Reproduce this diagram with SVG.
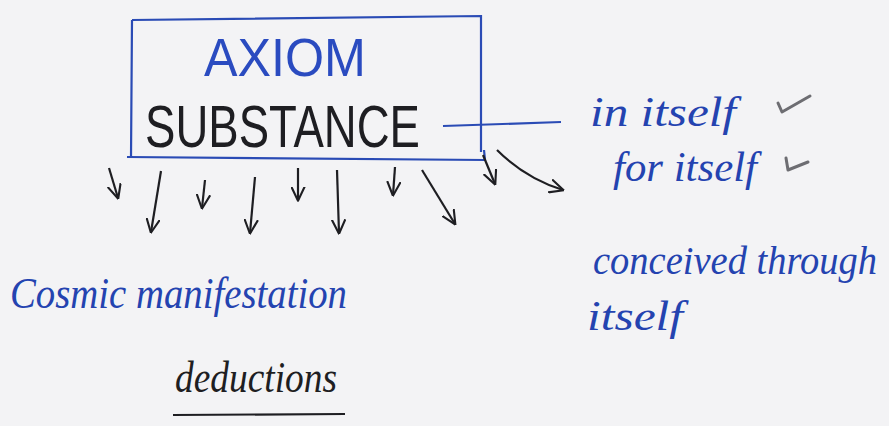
<svg xmlns="http://www.w3.org/2000/svg" width="889" height="426" viewBox="0 0 889 426">
<style>
.blue{fill:#2443b0;font-family:"Liberation Serif",serif;font-style:italic}
.caps{font-family:"Liberation Sans",sans-serif}
.ink{fill:#1e1e22}
.bl{stroke:#2a4bb5;stroke-width:2.2;fill:none}
.arr{stroke:#1e1e22;stroke-width:2.2;fill:none;marker-end:url(#v)}
.chk{stroke:#6d6d72;stroke-width:3;fill:none;stroke-linecap:round;stroke-linejoin:round}
</style>
<defs>
<marker id="v" viewBox="0 0 10 10" refX="9" refY="5" markerWidth="15" markerHeight="15" orient="auto" markerUnits="userSpaceOnUse">
<path d="M0,0.5 L9.5,5 L0,9.5" fill="none" stroke="#1e1e22" stroke-width="1.4" stroke-linejoin="round"/>
</marker>
</defs>
<rect width="889" height="426" fill="#f3f3f5"/>
<g id="substance">
<path class="bl" d="M132,20 L481,16 L481,152 M127,157 L485,160 L484,150 M132,20 L131,157"/>
<text class="caps" x="204" y="76" font-size="54" fill="#2a4bc0" textLength="162" lengthAdjust="spacingAndGlyphs">AXIOM</text>
<text class="caps ink" x="145" y="147" font-size="60" textLength="275" lengthAdjust="spacingAndGlyphs">SUBSTANCE</text>
</g>
<g id="connectors">
<path class="bl" d="M443,126 L561,122"/>
<path class="arr" d="M109,168 L118,198"/>
<path class="arr" d="M161,171 L151,232"/>
<path class="arr" d="M205,180 L202,208"/>
<path class="arr" d="M255,177 L250,233"/>
<path class="arr" d="M298,168 L298,200"/>
<path class="arr" d="M337,170 L339,233"/>
<path class="arr" d="M395,167 L393,195"/>
<path class="arr" d="M422,170 L455,224"/>
<path class="arr" d="M483,155 L495,184"/>
<path class="arr" d="M497,150 Q525,178 563,190"/>
</g>
<g id="attributes">
<text class="blue" x="590" y="126" font-size="42" textLength="146" lengthAdjust="spacingAndGlyphs">in itself</text>
<text class="blue" x="613" y="181" font-size="42" textLength="144" lengthAdjust="spacingAndGlyphs">for itself</text>
<text class="blue" x="593" y="274" font-size="39" textLength="284" lengthAdjust="spacingAndGlyphs">conceived through</text>
<text class="blue" x="587" y="330" font-size="42" textLength="96" lengthAdjust="spacingAndGlyphs">itself</text>
<path class="chk" d="M778,103 L782,112 L810,96"/>
<path class="chk" d="M786,158 L788,170 L808,162"/>
</g>
<g id="cosmic">
<text class="blue" x="10" y="308" font-size="44" textLength="337" lengthAdjust="spacingAndGlyphs">Cosmic manifestation</text>
</g>
<g id="deductions">
<text class="ink" x="175" y="392" font-size="44" font-family="Liberation Serif,serif" font-style="italic" textLength="162" lengthAdjust="spacingAndGlyphs">deductions</text>
<path d="M173,415 L345,414" stroke="#1e1e22" stroke-width="2.2" fill="none"/>
</g>
</svg>
